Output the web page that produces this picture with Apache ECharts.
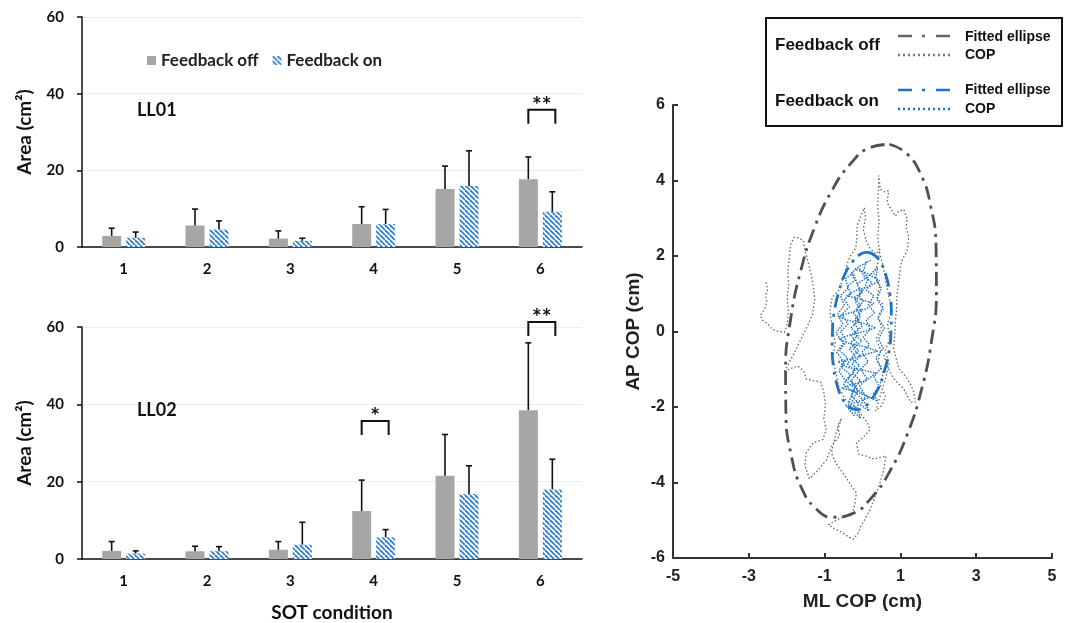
<!DOCTYPE html>
<html>
<head>
<meta charset="utf-8">
<script src="https://cdn.jsdelivr.net/npm/echarts@6/dist/echarts.min.js"></script>
<style>
html, body { margin: 0; background: #fff; }
#main { width: 1070px; height: 623px; }
</style>
</head>
<body>
<div id="main"></div>
<script>
// SOT condition bar data (mean and SD, cm²)
var conditions = ['1', '2', '3', '4', '5', '6']
var ll01Off = [2.9, 5.6, 2.2, 6.0, 15.1, 17.7]
var ll01OffSd = [2.0, 4.3, 2.0, 4.5, 6.0, 5.8]
var ll01On = [2.4, 4.6, 1.6, 6.0, 15.9, 9.2]
var ll01OnSd = [1.5, 2.2, 0.7, 3.8, 9.2, 5.2]
var ll02Off = [2.1, 2.0, 2.4, 12.4, 21.5, 38.5]
var ll02OffSd = [2.4, 1.3, 2.1, 8.0, 10.7, 17.4]
var ll02On = [1.4, 2.0, 3.7, 5.6, 16.8, 18.0]
var ll02OnSd = [0.7, 1.2, 5.8, 2.0, 7.3, 7.8]

// significance brackets: category index, bracket height, stars
var ll01SigCat = [5]
var ll01SigY = [35.8]
var ll01SigText = ['**']
var ll02SigCat = [3, 5]
var ll02SigY = [35.7, 61.3]
var ll02SigText = ['*', '**']

// COP plot ticks
var mlTicks = [-5, -3, -1, 1, 3, 5]

// fitted ellipses (cm)
var ellipseOff = [[0.71, 4.96], [1.16, 4.72], [1.54, 4.16], [1.80, 3.32], [1.94, 2.25], [1.95, 1.03],
  [1.82, -0.26], [1.56, -1.53], [1.19, -2.70], [0.74, -3.67], [0.24, -4.40], [-0.28, -4.83],
  [-0.79, -4.92], [-1.24, -4.68], [-1.62, -4.12], [-1.88, -3.28], [-2.02, -2.21], [-2.03, -0.99],
  [-1.90, 0.30], [-1.64, 1.57], [-1.27, 2.74], [-0.82, 3.71], [-0.32, 4.44], [0.20, 4.87], [0.71, 4.96]]
var ellipseOn = [[0.13, 2.10], [0.33, 2.01], [0.50, 1.79], [0.63, 1.45], [0.72, 1.01], [0.76, 0.50],
  [0.75, -0.04], [0.69, -0.58], [0.57, -1.07], [0.42, -1.50], [0.23, -1.81], [0.03, -2.01],
  [-0.17, -2.07], [-0.37, -1.98], [-0.54, -1.76], [-0.67, -1.42], [-0.76, -0.98], [-0.80, -0.47],
  [-0.79, 0.07], [-0.73, 0.61], [-0.61, 1.10], [-0.46, 1.53], [-0.27, 1.84], [-0.07, 2.04], [0.13, 2.10]]

// COP traces, traced by hand (cm)
var copOff = [[-2.55, 1.30], [-2.50, 1.12], [-2.56, 0.95], [-2.52, 0.78], [-2.58, 0.60], [-2.70, 0.42], [-2.64, 0.30],
  [-2.50, 0.20], [-2.38, 0.06], [-2.22, 0.00], [-2.06, -0.02], [-1.98, 0.20], [-1.96, 0.55], [-1.99, 0.90],
  [-1.95, 1.25], [-1.97, 1.60], [-1.93, 1.95], [-1.90, 2.30], [-1.80, 2.50], [-1.66, 2.47], [-1.56, 2.40],
  [-1.52, 2.15], [-1.44, 1.85], [-1.36, 1.55], [-1.30, 1.20], [-1.26, 0.85], [-1.32, 0.45], [-1.45, 0.15],
  [-1.60, -0.15], [-1.74, -0.45], [-1.88, -0.72], [-2.00, -0.95], [-2.08, -1.08], [-1.90, -0.98], [-1.70, -0.92],
  [-1.55, -1.05], [-1.48, -1.26], [-1.30, -1.30], [-1.10, -1.34], [-1.02, -1.60], [-0.98, -1.95], [-1.02, -2.30],
  [-0.96, -2.60], [-1.04, -2.86], [-1.30, -2.95], [-1.48, -3.20], [-1.52, -3.55], [-1.40, -3.90], [-1.20, -3.70],
  [-0.95, -3.40], [-0.80, -3.00], [-0.60, -2.76], [-0.66, -2.50], [-0.55, -2.30], [-0.70, -2.70], [-0.82, -3.22],
  [-0.70, -3.50], [-0.52, -3.75], [-0.35, -4.00], [-0.16, -4.28], [-0.20, -4.55], [-0.26, -4.82], [-0.60, -4.95],
  [-0.90, -5.12], [-0.75, -5.22], [-0.58, -5.30], [-0.40, -5.42], [-0.24, -5.50], [-0.10, -5.32], [-0.04, -5.15],
  [0.06, -4.98], [0.20, -4.72], [0.32, -4.40], [0.45, -4.05], [0.55, -3.70], [0.62, -3.30], [0.48, -3.33],
  [0.30, -3.38], [0.10, -3.30], [-0.10, -3.25], [-0.16, -2.95], [0.02, -2.80], [0.20, -2.60], [0.12, -2.40],
  [-0.02, -2.22], [-0.20, -2.00], [-0.45, -1.80], [-0.62, -1.50], [-0.70, -1.10], [-0.78, -0.70], [-0.72, -0.30],
  [-0.80, 0.10], [-0.86, 0.55], [-0.80, 0.90], [-0.62, 1.10], [-0.50, 1.45], [-0.40, 1.80], [-0.32, 2.00],
  [-0.18, 2.20], [-0.15, 2.45], [-0.14, 2.80], [-0.05, 3.05], [0.05, 3.28], [0.08, 3.00], [0.02, 2.70],
  [0.10, 2.40], [0.20, 2.20], [0.35, 2.05], [0.46, 2.18], [0.40, 1.80], [0.30, 1.50], [0.45, 1.20],
  [0.38, 0.90], [0.55, 0.70], [0.42, 0.40], [0.50, 0.10], [0.36, -0.20], [0.48, -0.50], [0.40, -0.80],
  [0.55, -1.10], [0.46, -1.40], [0.60, -1.70], [0.52, -1.95], [0.35, -2.10], [0.50, -1.60], [0.62, -1.20],
  [0.70, -0.85], [0.60, -0.50], [0.72, -0.20], [0.66, 0.20], [0.78, 0.55], [0.70, 0.90], [0.62, 1.30],
  [0.55, 1.70], [0.45, 2.10], [0.40, 2.50], [0.44, 2.90], [0.40, 3.30], [0.42, 3.70], [0.43, 4.13],
  [0.47, 3.77], [0.58, 3.70], [0.69, 3.73], [0.65, 3.41], [0.78, 3.20], [0.87, 3.06], [0.95, 3.18],
  [1.09, 3.23], [1.18, 2.97], [1.15, 2.75], [1.22, 2.52], [1.18, 2.16], [1.05, 1.90], [1.00, 1.71],
  [0.96, 1.35], [0.91, 0.99], [0.90, 0.60], [0.87, 0.28], [0.85, -0.08], [0.82, -0.44], [0.90, -0.75],
  [0.96, -0.98], [1.08, -1.12], [1.18, -1.25], [1.28, -1.42], [1.35, -1.60], [1.40, -1.87], [1.27, -1.87],
  [1.18, -1.70], [1.09, -1.52], [0.95, -1.38], [0.82, -1.25], [0.72, -1.05], [0.65, -0.89], [0.56, -0.62]]
var copOn = [[0.10, 1.85], [0.02, 1.60], [0.15, 1.40], [0.05, 1.15], [-0.10, 0.95], [0.02, 0.80], [-0.15, 0.60],
  [-0.05, 0.40], [-0.25, 0.25], [-0.10, 0.05], [-0.30, -0.10], [-0.15, -0.30], [-0.35, -0.45], [-0.20, -0.65],
  [-0.40, -0.85], [-0.22, -1.05], [-0.38, -1.25], [-0.18, -1.45], [-0.30, -1.70], [-0.10, -1.90], [-0.20, -2.15],
  [-0.05, -2.30], [-0.15, -2.05], [-0.35, -1.85], [-0.25, -1.60], [-0.50, -1.40], [-0.32, -1.15], [-0.55, -0.95],
  [-0.40, -0.70], [-0.60, -0.50], [-0.42, -0.25], [-0.58, 0.00], [-0.38, 0.20], [-0.55, 0.45], [-0.35, 0.65],
  [-0.48, 0.85], [-0.30, 1.00], [-0.40, 1.20], [-0.20, 1.35], [-0.30, 1.55], [-0.10, 1.70], [0.05, 1.45],
  [0.25, 1.30], [0.10, 1.10], [0.30, 0.95], [0.15, 0.70], [0.32, 0.50], [0.10, 0.30], [0.20, 0.05],
  [0.02, -0.15], [0.18, -0.35], [-0.02, -0.55], [0.15, -0.80], [-0.05, -1.00], [0.12, -1.25], [-0.08, -1.45],
  [0.08, -1.70], [-0.05, -1.95], [0.18, -2.10], [0.00, -1.80], [-0.25, -1.55], [-0.05, -1.30], [-0.28, -1.10],
  [-0.08, -0.90], [-0.30, -0.70], [-0.10, -0.50], [-0.32, -0.30], [-0.12, -0.10], [-0.30, 0.10], [-0.08, 0.30],
  [-0.25, 0.50], [-0.05, 0.70], [-0.22, 0.90], [0.00, 1.05], [-0.15, 1.25], [0.20, 1.50], [0.40, 1.70],
  [0.35, 1.40], [0.50, 1.15], [0.38, 0.85], [0.55, 0.60], [0.40, 0.35], [0.58, 0.10], [0.42, -0.20],
  [0.55, -0.45], [0.35, -0.70], [0.50, -0.95], [0.30, -1.20], [0.45, -1.45], [0.28, -1.65], [0.40, -1.85],
  [0.10, -1.70], [-0.20, -1.50], [-0.45, -1.30], [-0.62, -1.05], [-0.50, -0.80], [-0.68, -0.55], [-0.50, -0.30],
  [-0.70, -0.05], [-0.52, 0.20], [-0.66, 0.45], [-0.48, 0.70], [-0.58, 0.95], [-0.38, 1.15], [-0.45, 1.40],
  [-0.25, 1.55], [-0.15, 1.30], [-0.05, 1.00], [-0.20, 0.80], [-0.02, 0.55], [-0.18, 0.35], [0.00, 0.15],
  [-0.22, -0.05], [-0.02, -0.25], [-0.25, -0.45], [-0.05, -0.65], [-0.28, -0.85], [-0.10, -1.05], [-0.30, -1.30],
  [-0.12, -1.55], [-0.25, -1.80], [-0.35, -2.05], [-0.20, -2.25], [-0.45, -1.95], [-0.10, -1.85], [0.20, -1.75],
  [-0.15, -1.60], [-0.55, -1.50], [-0.20, -1.38], [0.10, -1.30], [0.35, -1.10], [0.00, -1.02], [-0.40, -0.95],
  [-0.65, -0.80], [-0.25, -0.72], [0.10, -0.60], [0.40, -0.52], [0.05, -0.40], [-0.35, -0.32], [-0.62, -0.20],
  [-0.30, -0.08], [0.05, 0.00], [0.35, 0.10], [0.00, 0.22], [-0.40, 0.30], [-0.62, 0.40], [-0.25, 0.52],
  [0.10, 0.60], [0.30, 0.75], [-0.05, 0.85], [-0.42, 0.95], [-0.15, 1.10], [0.20, 1.20], [0.45, 1.35],
  [0.10, 1.55], [-0.20, 1.65], [0.05, 1.80], [0.25, 1.90]]

var barFont = 'Lato'
var plotFont = 'Liberation Sans'
var blue = '#2f7fd0'

// diagonal hatch for the "Feedback on" bars
function hatch() {
  var c = document.createElement('canvas')
  c.width = 5
  c.height = 5
  var g = c.getContext('2d')
  g.fillStyle = '#fff'
  g.fillRect(0, 0, 5, 5)
  g.strokeStyle = blue
  g.lineWidth = 1.8
  for (var k = -5; k <= 5; k += 5) {
    g.beginPath()
    g.moveTo(k, 0)
    g.lineTo(k + 5, 5)
    g.stroke()
  }
  return c
}
var hatchFill = { image: hatch(), repeat: 'repeat' }

function errorSeries(grid, means, sds, offset) {
  return {
    type: 'custom',
    xAxisIndex: grid,
    yAxisIndex: grid,
    z: 5,
    clip: false,
    data: means.map(function(m, i) { return [i, m, sds[i]] }),
    renderItem: function(params, api) {
      var base = api.coord([api.value(0), api.value(1)])
      var top = api.coord([api.value(0), api.value(1) + api.value(2)])
      var x = base[0] + offset
      var st = { stroke: '#111', lineWidth: 1.6 }
      return {
        type: 'group',
        children: [
          { type: 'line', shape: { x1: x, y1: base[1], x2: x, y2: top[1] }, style: st },
          { type: 'line', shape: { x1: x - 3, y1: top[1], x2: x + 3, y2: top[1] }, style: st }
        ]
      }
    }
  }
}

function sigSeries(grid, cats, ys, texts) {
  return {
    type: 'custom',
    xAxisIndex: grid,
    yAxisIndex: grid,
    z: 6,
    clip: false,
    data: cats.map(function(c, i) { return [c, ys[i]] }),
    renderItem: function(params, api) {
      var p = api.coord([api.value(0), api.value(1)])
      var x1 = p[0] - 12
      var x2 = p[0] + 15
      var y = p[1]
      return {
        type: 'group',
        children: [
          { type: 'polyline', shape: { points: [[x1, y + 14], [x1, y], [x2, y], [x2, y + 14]] },
            style: { stroke: '#111', lineWidth: 2, fill: null } },
          { type: 'text', style: { text: texts[params.dataIndex], x: (x1 + x2) / 2, y: y - 4,
            align: 'center', verticalAlign: 'middle', font: 'bold 23px ' + barFont, fill: '#111' } }
        ]
      }
    }
  }
}

function barX(grid) {
  return {
    type: 'category',
    gridIndex: grid,
    data: conditions,
    axisLine: { lineStyle: { color: '#111', width: 1.5 } },
    axisTick: { show: false },
    axisLabel: { margin: 15, color: '#111', fontFamily: barFont, fontWeight: 'bold', fontSize: 15 }
  }
}
function barY(grid) {
  return {
    type: 'value',
    gridIndex: grid,
    min: 0,
    max: 60,
    interval: 20,
    name: 'Area (cm²)',
    nameLocation: 'middle',
    nameGap: 48,
    nameTextStyle: { color: '#111', fontFamily: barFont, fontWeight: 'bold', fontSize: 19 },
    axisLine: { show: true, lineStyle: { color: '#111', width: 1.5 } },
    axisTick: { show: true, length: 5, lineStyle: { color: '#111', width: 1.5 } },
    axisLabel: { margin: 18, color: '#111', fontFamily: barFont, fontWeight: 'bold', fontSize: 15 },
    splitLine: { lineStyle: { color: '#ececec', width: 1 } }
  }
}
function bars(grid, off, on) {
  return [
    { name: 'Feedback off', type: 'bar', xAxisIndex: grid, yAxisIndex: grid, data: off,
      barWidth: 19, barGap: '26%', itemStyle: { color: '#a6a6a6' } },
    { name: 'Feedback on', type: 'bar', xAxisIndex: grid, yAxisIndex: grid, data: on,
      barWidth: 19, barGap: '26%', itemStyle: { color: hatchFill } }
  ]
}

function legendLine(x, y, color, dash) {
  return { type: 'line', z: 20, shape: { x1: x, y1: y, x2: x + 54, y2: y },
    style: { stroke: color, lineWidth: 2.5, lineDash: dash } }
}
function legendText(x, y, text, size) {
  return { type: 'text', z: 20, x: x, y: y, style: { text: text, verticalAlign: 'middle',
    font: 'bold ' + size + 'px ' + plotFont, fill: '#111' } }
}

var chart = echarts.init(document.getElementById('main'))
chart.setOption({
  animation: false,
  backgroundColor: '#fff',
  grid: [
    { left: 82, top: 17, width: 500, height: 230 },
    { left: 82, top: 327, width: 500, height: 232 },
    { left: 673, top: 105, width: 379, height: 453 }
  ],
  legend: {
    data: ['Feedback off', 'Feedback on'],
    left: 142,
    top: 47,
    icon: 'rect',
    itemWidth: 9,
    itemHeight: 9,
    itemGap: 14,
    textStyle: { color: '#222', fontFamily: barFont, fontWeight: 'bold', fontSize: 17 }
  },
  xAxis: [
    barX(0),
    Object.assign(barX(1), { name: 'SOT condition', nameLocation: 'middle', nameGap: 44,
      nameTextStyle: { color: '#111', fontFamily: barFont, fontWeight: 'bold', fontSize: 19 } }),
    {
      type: 'value',
      gridIndex: 2,
      min: -5,
      max: 5,
      name: 'ML COP (cm)',
      nameLocation: 'middle',
      nameGap: 34,
      nameTextStyle: { color: '#222', fontFamily: plotFont, fontWeight: 'bold', fontSize: 19 },
      axisLine: { onZero: false, lineStyle: { color: '#333', width: 2 } },
      axisTick: { inside: true, length: 5, customValues: mlTicks, lineStyle: { color: '#333', width: 2 } },
      axisLabel: { margin: 11, customValues: mlTicks, color: '#222', fontFamily: plotFont, fontWeight: 'bold', fontSize: 16 },
      splitLine: { show: false }
    }
  ],
  yAxis: [
    barY(0),
    barY(1),
    {
      type: 'value',
      gridIndex: 2,
      min: -6,
      max: 6,
      interval: 2,
      name: 'AP COP (cm)',
      nameLocation: 'middle',
      nameGap: 30,
      nameTextStyle: { color: '#222', fontFamily: plotFont, fontWeight: 'bold', fontSize: 19 },
      axisLine: { show: true, onZero: false, lineStyle: { color: '#333', width: 2 } },
      axisTick: { show: true, inside: true, length: 5, lineStyle: { color: '#333', width: 2 } },
      axisLabel: { margin: 8, color: '#222', fontFamily: plotFont, fontWeight: 'bold', fontSize: 16 },
      splitLine: { show: false }
    }
  ],
  series: [].concat(
    bars(0, ll01Off, ll01On),
    bars(1, ll02Off, ll02On),
    [
      errorSeries(0, ll01Off, ll01OffSd, -12),
      errorSeries(0, ll01On, ll01OnSd, 12),
      errorSeries(1, ll02Off, ll02OffSd, -12),
      errorSeries(1, ll02On, ll02OnSd, 12),
      sigSeries(0, ll01SigCat, ll01SigY, ll01SigText),
      sigSeries(1, ll02SigCat, ll02SigY, ll02SigText),
      { type: 'line', xAxisIndex: 2, yAxisIndex: 2, data: copOff, showSymbol: false, z: 2,
        lineStyle: { color: '#666', width: 1.3, type: [1.5, 2.2] } },
      { type: 'line', xAxisIndex: 2, yAxisIndex: 2, data: copOn, showSymbol: false, z: 3,
        lineStyle: { color: '#1a6fc4', width: 1.4, type: [1.5, 1.3] } },
      { type: 'line', xAxisIndex: 2, yAxisIndex: 2, data: ellipseOff, showSymbol: false, smooth: 0.5, z: 4,
        lineStyle: { color: '#505050', width: 2.8, type: [14, 6, 3, 6] } },
      { type: 'line', xAxisIndex: 2, yAxisIndex: 2, data: ellipseOn, showSymbol: false, smooth: 0.5, z: 4,
        lineStyle: { color: '#1f72c4', width: 2.8, type: [14, 6, 3, 6] } }
    ]
  ),
  graphic: [
    { type: 'text', z: 20, left: 137, top: 101, style: { text: 'LL01', font: 'bold 18px ' + barFont, fill: '#111' } },
    { type: 'text', z: 20, left: 137, top: 401, style: { text: 'LL02', font: 'bold 18px ' + barFont, fill: '#111' } },
    { type: 'rect', z: 19, shape: { x: 766, y: 18, width: 296, height: 108 }, style: { fill: '#fff', stroke: '#111', lineWidth: 2 } },
    legendText(775, 45, 'Feedback off', 17),
    legendLine(898, 36, '#666', [14, 10, 3, 11]),
    legendLine(898, 55, '#777', [2, 3]),
    legendText(965, 37, 'Fitted ellipse', 14),
    legendText(965, 55, 'COP', 14),
    legendText(775, 101, 'Feedback on', 17),
    legendLine(898, 90, '#1f72c4', [14, 10, 3, 11]),
    legendLine(898, 109, '#1f72c4', [2, 3]),
    legendText(965, 90, 'Fitted ellipse', 14),
    legendText(965, 109, 'COP', 14)
  ]
})
</script>
</body>
</html>
